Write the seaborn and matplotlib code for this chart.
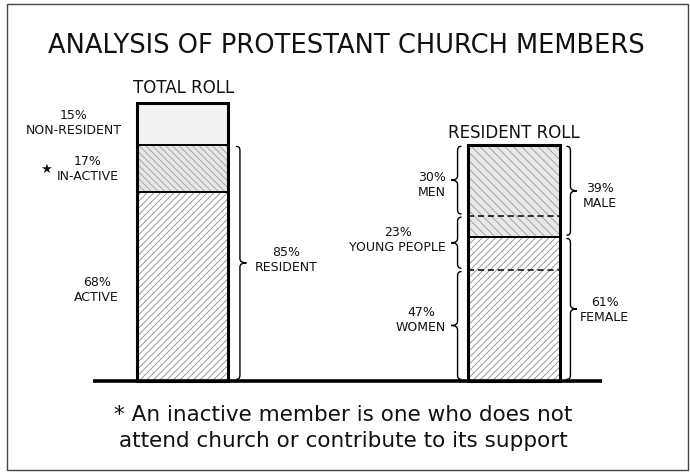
import numpy as np
import pandas as pd
import seaborn as sns
import matplotlib
matplotlib.use("Agg")
import matplotlib.pyplot as plt
from matplotlib.path import Path
from matplotlib.patches import PathPatch, Rectangle

# ---------------- data ----------------
rolls = ["TOTAL ROLL", "RESIDENT ROLL"]
total_labels = ["ACTIVE", "IN-ACTIVE", "NON-RESIDENT"]
total_pct = [68, 17, 15]
resident_share = 85          # resident members, % of total roll
age_labels = ["WOMEN", "YOUNG PEOPLE", "MEN"]
age_pct = [47, 23, 30]       # % of resident roll
sex_labels = ["FEMALE", "MALE"]
sex_pct = [61, 39]           # % of resident roll
title = "ANALYSIS OF PROTESTANT CHURCH MEMBERS"
note = "* An inactive member is one who does not\nattend church or contribute to its support"

# ---------------- style ----------------
sns.set_theme(style="white")
plt.rcParams["font.family"] = ["DejaVu Sans"]
plt.rcParams["hatch.linewidth"] = 0.6

W, H = 690, 474
fig = plt.figure(figsize=(W / 100, H / 100), dpi=100)
fig.patch.set_facecolor("white")
ax = fig.add_axes([0, 0, 1, 1])

bw = 0.2775
res_scale = resident_share / 100.0
total_cum = np.cumsum(total_pct)
sex_cum = np.cumsum(sex_pct) * res_scale
age_cum = np.cumsum(age_pct) * res_scale

hatch_col = "#8c8c8c"


def seg_bar(roll, top, face, hatch, hcol=hatch_col):
    n0 = len(ax.patches)
    df = pd.DataFrame({"roll": [roll], "top": [top]})
    sns.barplot(data=df, x="roll", y="top", order=rolls, width=bw, ax=ax,
                saturation=1, color="white", errorbar=None)
    for p in ax.patches[n0:]:
        p.set_facecolor(face)
        p.set_edgecolor(hcol)
        p.set_hatch(hatch)
        p.set_linewidth(0)
        p.set_zorder(2)


# total roll, drawn from the top segment down
total_styles = {"NON-RESIDENT": ("#f3f3f3", "", hatch_col),
                "IN-ACTIVE": ("#e6e6e6", "\\\\\\\\\\", "#a0a0a0"),
                "ACTIVE": ("white", "/////", hatch_col)}
for lab, top in reversed(list(zip(total_labels, total_cum))):
    face, hatch, hc = total_styles[lab]
    seg_bar(rolls[0], top, face, hatch, hc)

sex_styles = {"MALE": ("#e8e8e8", "\\\\\\\\", "#9a9a9a"),
              "FEMALE": ("white", "/////", hatch_col)}
for lab, top in reversed(list(zip(sex_labels, sex_cum))):
    face, hatch, hc = sex_styles[lab]
    seg_bar(rolls[1], top, face, hatch, hc)

# outlines
n0 = len(ax.patches)
sns.barplot(x=rolls, y=[total_cum[-1], sex_cum[-1]], order=rolls, width=bw, ax=ax,
            saturation=1, errorbar=None, color="white")
for p in ax.patches[n0:]:
    p.set_facecolor("none")
    p.set_edgecolor("black")
    p.set_linewidth(2.2)
    p.set_zorder(4)

# segment boundaries
ax.hlines(total_cum[:-1], 0 - bw / 2, 0 + bw / 2, color="black", lw=1.4, zorder=3)
ax.hlines(sex_cum[:-1], 1 - bw / 2, 1 + bw / 2, color="black", lw=1.4, zorder=3)
ax.hlines(age_cum[:-1], 1 - bw / 2, 1 + bw / 2, color="black", lw=1.1,
          linestyles=(0, (4, 2.5)), zorder=3)

# baseline
ax.plot([-0.27, 1.265], [0, 0], color="black", lw=2.6, solid_capstyle="butt", zorder=5)


# braces
def brace(x, y0, y1, side, w=0.030, r=1.5, gap=0.6, spine=0.35):
    y0, y1 = y0 + gap, y1 - gap
    s = 1 if side == "right" else -1
    xm = x + s * w * spine
    xt = x + s * w
    ym = (y0 + y1) / 2
    verts = [(x, y0), (xm, y0), (xm, y0 + r),
             (xm, ym - r), (xm, ym), (xt, ym),
             (xm, ym), (xm, ym + r),
             (xm, y1 - r), (xm, y1), (x, y1)]
    codes = [Path.MOVETO, Path.CURVE3, Path.CURVE3, Path.LINETO, Path.CURVE3, Path.CURVE3,
             Path.CURVE3, Path.CURVE3, Path.LINETO, Path.CURVE3, Path.CURVE3]
    ax.add_patch(PathPatch(Path(verts, codes), fill=False, lw=1.0, color="black",
                           zorder=5, capstyle="round"))


brace(0 + bw / 2 + 0.024, 0, total_cum[1], "right")
lo = 0
for v in age_cum:
    brace(1 - bw / 2 - 0.021, lo, v, "left")
    lo = v
lo = 0
for v in sex_cum:
    brace(1 + bw / 2 + 0.021, lo, v, "right")
    lo = v

# axis limits: y=0 at pixel 381, y=100 at pixel 103; cat 0 at px 182.5, cat 1 at px 514
ppu_y = (381 - 103) / 100.0
ppu_x = 514 - 182.5
ax.set_ylim(-(H - 381) / ppu_y, 100 + 103 / ppu_y)
ax.set_xlim(-182.5 / ppu_x, (W - 182.5) / ppu_x)
ax.axis("off")


def ftext(x, y, s, **kw):
    fig.text(x / W, 1 - y / H, s, **kw)


lab_kw = dict(fontsize=9, va="center", multialignment="center", linespacing=1.2,
              color="#111111")
ftext(346, 53, title, fontsize=18.5, ha="center", va="baseline", color="#111111")
ftext(184, 88, rolls[0], fontsize=12, ha="center", va="center", color="#111111")
ftext(514, 133, rolls[1], fontsize=12, ha="center", va="center", color="#111111")

ftext(122, 123, f"{total_pct[2]}%\n{total_labels[2]}", ha="right", **lab_kw)
ftext(119, 169, f"{total_pct[1]}%\n{total_labels[1]}", ha="right", **lab_kw)
ftext(46, 169, "★", fontsize=9.5, ha="center", va="center", color="#111111")
ftext(119, 290, f"{total_pct[0]}%\n{total_labels[0]}", ha="right", **lab_kw)
ftext(286, 260, f"{resident_share}%\nRESIDENT", ha="center", **lab_kw)

ftext(446, 185, f"{age_pct[2]}%\n{age_labels[2]}", ha="right", **lab_kw)
ftext(446, 240, f"{age_pct[1]}%\n{age_labels[1]}", ha="right", **lab_kw)
ftext(446, 320, f"{age_pct[0]}%\n{age_labels[0]}", ha="right", **lab_kw)
ftext(583, 196, f"{sex_pct[1]}%\n{sex_labels[1]}", ha="left", **lab_kw)
ftext(580, 310, f"{sex_pct[0]}%\n{sex_labels[0]}", ha="left", **lab_kw)

ftext(343, 428, note, fontsize=15.5, ha="center", va="center", linespacing=1.35,
      color="#111111")

fig.patches.append(Rectangle((7 / W, 1 - 470 / H), 681 / W, 466 / H,
                             transform=fig.transFigure, fill=False,
                             edgecolor="#444444", lw=1.0))

fig.savefig("out.png", dpi=100)
